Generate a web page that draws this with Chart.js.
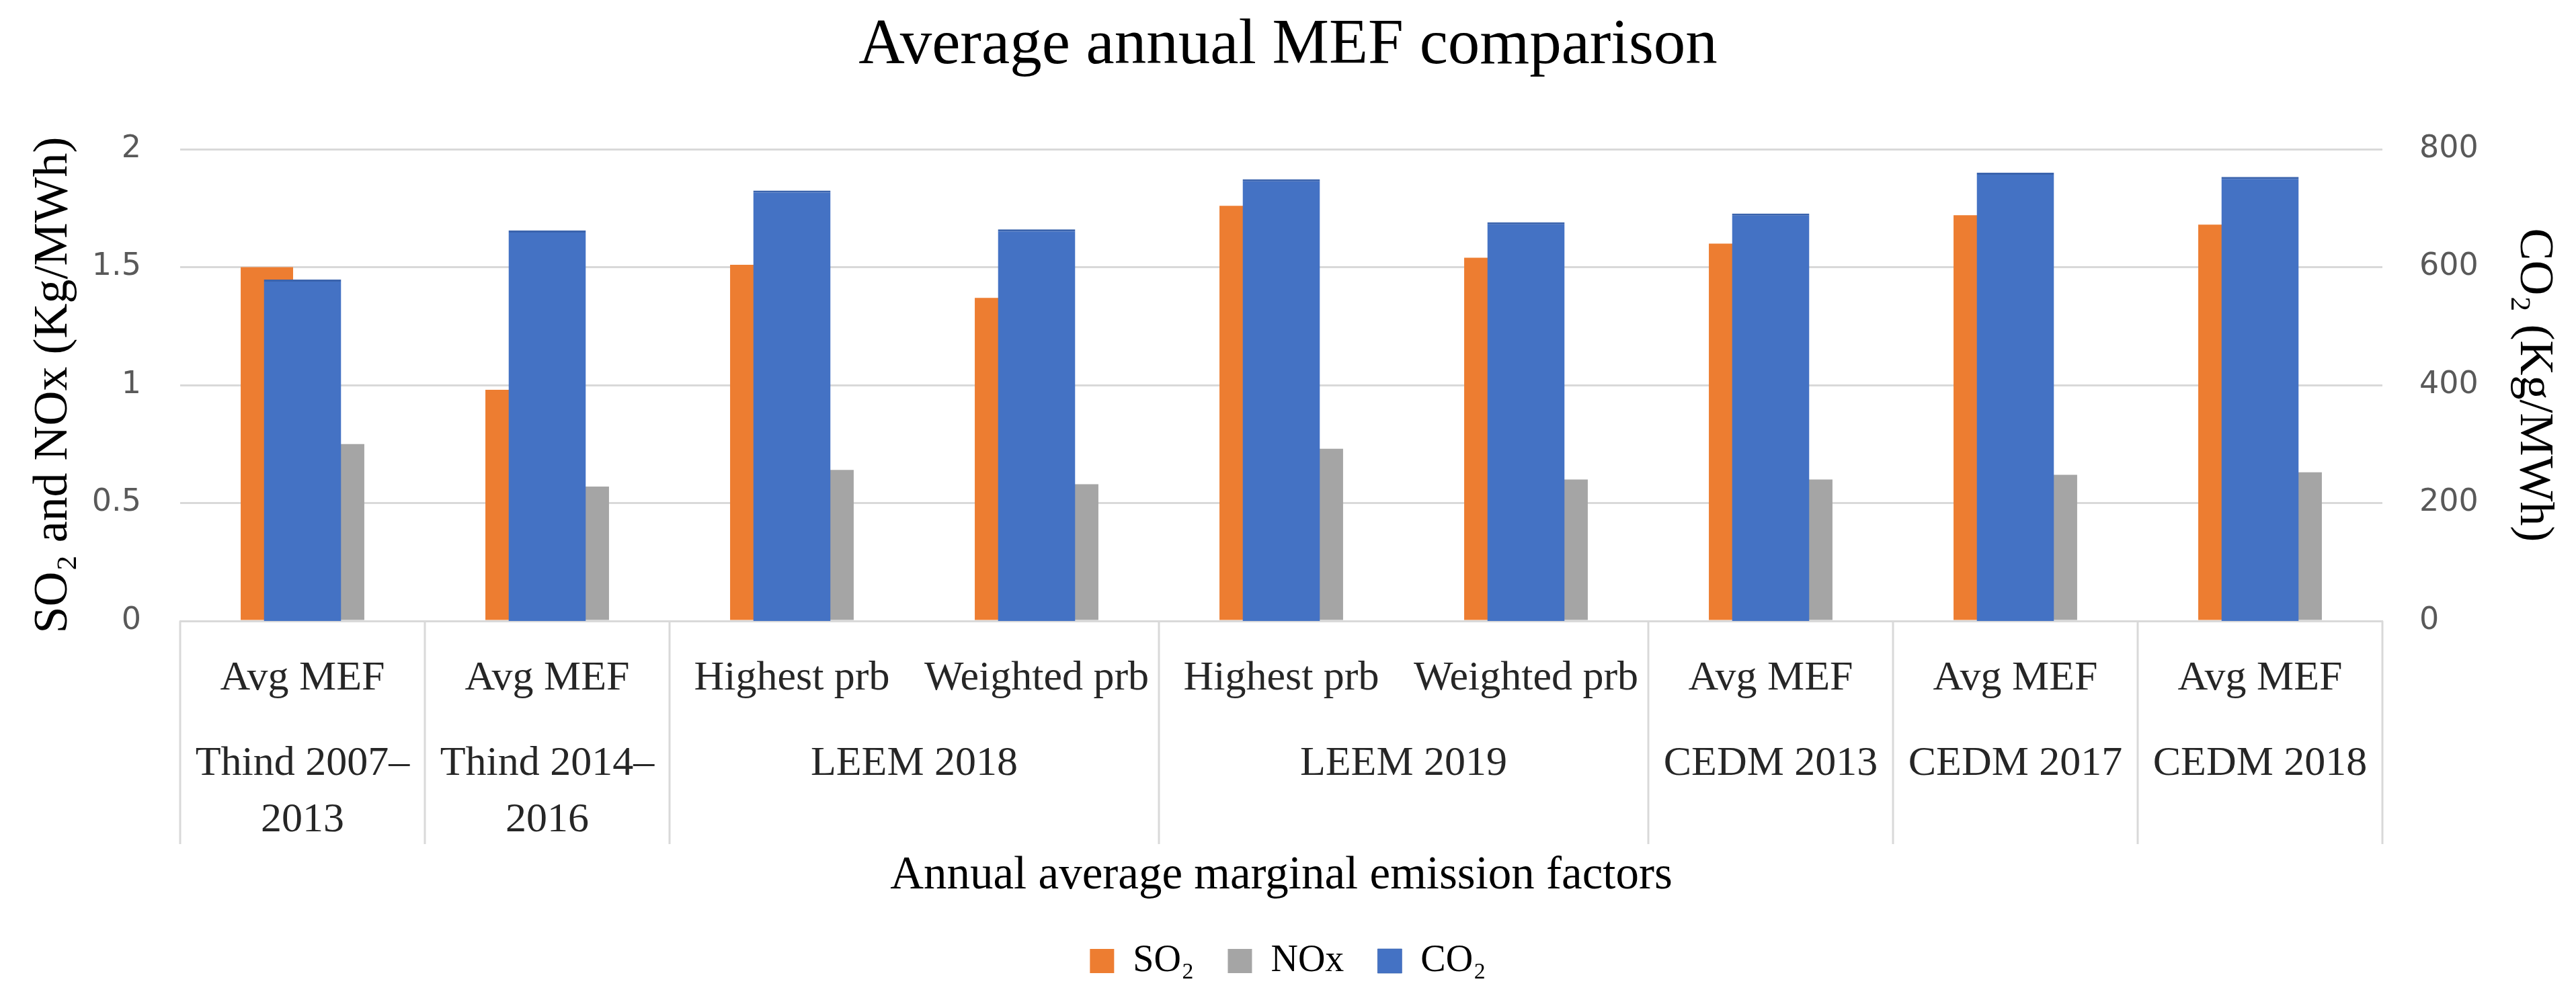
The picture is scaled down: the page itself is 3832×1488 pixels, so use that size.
<!DOCTYPE html>
<html>
<head>
<meta charset="utf-8">
<script src="https://cdn.jsdelivr.net/npm/chart.js@4.4.0/dist/chart.umd.min.js"></script>
<style>
  html, body { margin: 0; padding: 0; background: #fff; }
  #wrap { width: 3832px; height: 1488px; }
</style>
</head>
<body>
<div id="wrap"><canvas id="mefChart" width="3832" height="1488"></canvas></div>
<script>
// categories
const subLabels = ["Avg MEF", "Avg MEF", "Highest prb", "Weighted prb", "Highest prb", "Weighted prb", "Avg MEF", "Avg MEF", "Avg MEF"];
const groupLabels = [["Thind 2007–", "2013"], ["Thind 2014–", "2016"], ["LEEM 2018"], ["LEEM 2019"], ["CEDM 2013"], ["CEDM 2017"], ["CEDM 2018"]];
const groupSizes = [1, 1, 2, 2, 1, 1, 1];

// series (kg/MWh)
const so2 = [1.50, 0.98, 1.51, 1.37, 1.76, 1.54, 1.60, 1.72, 1.68];
const nox = [0.75, 0.57, 0.64, 0.58, 0.73, 0.60, 0.60, 0.62, 0.63];
const co2 = [579, 662, 730, 664, 749, 676, 691, 760, 753];

// ticks
const leftTicks = [0, 0.5, 1, 1.5, 2];
const rightTicks = [0, 200, 400, 600, 800];

Chart.defaults.font.family = '"Liberation Serif", serif';

// second row of the category axis + separators
const groupRows = {
    id: "groupRows",
    afterDraw(chart) {
        const x = chart.scales.x;
        const ctx = chart.ctx;
        const half = (x.getPixelForValue(1) - x.getPixelForValue(0)) / 2;
        const top = x.top;
        ctx.save();
        ctx.strokeStyle = "#d9d9d9";
        ctx.lineWidth = 3;
        ctx.font = '62px "Liberation Serif"';
        ctx.fillStyle = "#262626";
        ctx.textAlign = "center";
        ctx.textBaseline = "alphabetic";
        const edges = [x.getPixelForValue(0) - half];
        let start = 0;
        groupSizes.forEach((n, g) => {
            const left = x.getPixelForValue(start) - half;
            const right = x.getPixelForValue(start + n - 1) + half;
            edges.push(right);
            groupLabels[g].forEach((line, k) => {
                ctx.fillText(line, (left + right) / 2, top + 229 + k * 84);
            });
            start += n;
        });
        edges.forEach(px => {
            ctx.beginPath();
            ctx.moveTo(px, top);
            ctx.lineTo(px, top + 332);
            ctx.stroke();
        });
        ctx.restore();
    }
};

new Chart(document.getElementById("mefChart"), {
    type: "bar",
    data: {
        labels: subLabels,
        datasets: [{
            label: "SO₂",
            data: so2,
            backgroundColor: "#ed7d31",
            yAxisID: "y",
            order: 1,
            categoryPercentage: 0.582,
            barPercentage: 0.736
        }, {
            label: "NOx",
            data: nox,
            backgroundColor: "#a5a5a5",
            yAxisID: "y",
            order: 1,
            categoryPercentage: 0.582,
            barPercentage: 0.736
        }, {
            label: "CO₂",
            data: co2,
            backgroundColor: "#4472c4",
            borderColor: "#3a63ad",
            borderWidth: { top: 3, left: 0, right: 0, bottom: 0 },
            yAxisID: "y2",
            order: 0,
            grouped: false,
            categoryPercentage: 1,
            barPercentage: 0.316
        }]
    },
    options: {
        responsive: false,
        animation: false,
        devicePixelRatio: 1,
        layout: { padding: { bottom: 20 } },
        plugins: {
            title: {
                display: true,
                text: "Average annual MEF comparison",
                color: "#000",
                font: { size: 95, weight: "normal" },
                padding: { top: 12, bottom: 96 }
            },
            legend: {
                position: "bottom",
                labels: {
                    color: "#000",
                    font: { size: 56 },
                    boxWidth: 36,
                    boxHeight: 36,
                    padding: 50,
                    sort: (a, b) => a.datasetIndex - b.datasetIndex
                }
            },
            tooltip: { enabled: false }
        },
        scales: {
            x: {
                grid: { display: false, drawTicks: false },
                border: { display: true, color: "#d9d9d9", width: 3 },
                ticks: {
                    autoSkip: false,
                    maxRotation: 0,
                    minRotation: 0,
                    padding: 49,
                    color: "#262626",
                    font: { size: 62 }
                },
                title: {
                    display: true,
                    text: "Annual average marginal emission factors",
                    color: "#000",
                    font: { size: 69 },
                    padding: { top: 0, bottom: 7 }
                },
                afterFit: s => { s.height = s.chart.height - 20 - s.chart.legend.height - 924; }
            },
            y: {
                position: "left",
                min: 0,
                max: 2,
                grid: { color: "#d9d9d9", lineWidth: 3, drawTicks: false },
                border: { display: false },
                ticks: {
                    padding: 58,
                    color: "#595959",
                    font: { family: '"DejaVu Sans"', size: 46 },
                    callback: v => String(v)
                },
                afterBuildTicks: s => { s.ticks = leftTicks.map(v => ({ value: v })); },
                title: {
                    display: true,
                    text: "SO₂ and NOx (Kg/MWh)",
                    color: "#000",
                    font: { size: 72 },
                    padding: { top: 37 }
                },
                afterFit: s => { s.width = 268; }
            },
            y2: {
                position: "right",
                min: 0,
                max: 800,
                grid: { display: false, drawTicks: false },
                border: { display: false },
                ticks: {
                    padding: 55,
                    color: "#595959",
                    font: { family: '"DejaVu Sans"', size: 46 },
                    callback: v => String(v)
                },
                afterBuildTicks: s => { s.ticks = rightTicks.map(v => ({ value: v })); },
                title: {
                    display: true,
                    text: "CO₂ (Kg/MWh)",
                    color: "#000",
                    font: { size: 72 },
                    padding: { top: 20 }
                },
                afterFit: s => { s.width = 288; }
            }
        }
    },
    plugins: [groupRows]
});
</script>
</body>
</html>
